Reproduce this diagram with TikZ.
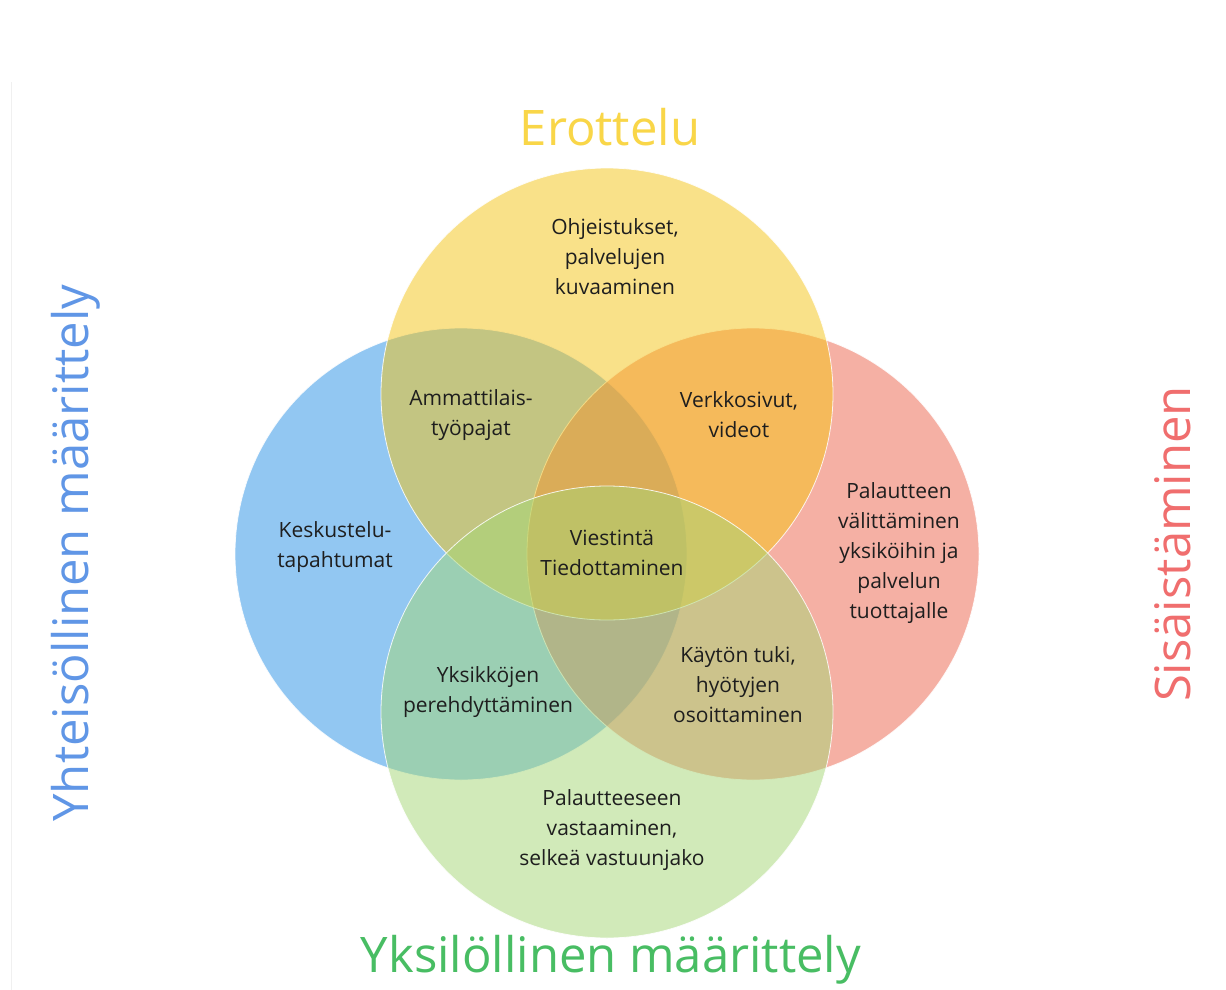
\documentclass[tikz,border=0pt]{standalone}
\usepackage{fontspec}
\setmainfont{Open Sans}
\definecolor{cblue}{RGB}{39,145,231}
\definecolor{cred}{RGB}{237,99,75}
\definecolor{cyellow}{RGB}{245,196,20}
\definecolor{cgreen}{RGB}{165,215,117}
\definecolor{tyellow}{RGB}{249,214,72}
\definecolor{tgreen}{RGB}{72,189,99}
\definecolor{tblue}{RGB}{96,150,230}
\definecolor{tred}{RGB}{240,110,110}
\definecolor{ink}{RGB}{30,30,30}
\tikzset{
  venn/.style={circle, minimum size=452pt, inner sep=0pt, fill=#1, fill opacity=0.5, draw=white, draw opacity=0.85, line width=0.8pt},
  lbl/.style={align=center, text=ink, font=\fontsize{21}{30}\selectfont, inner sep=0pt},
  title/.style={text=#1, font=\fontsize{49}{55}\selectfont, inner sep=0pt},
}
\begin{document}
\begin{tikzpicture}[x=1pt,y=-1pt]
\useasboundingbox (0,0) rectangle (1226,990);
\fill[white] (0,0) rectangle (1226,990);
\coordinate (ltop) at (11,82);
\coordinate (lbot) at (11,990);
\draw[gray!12, line width=0.8pt] (ltop) -- (lbot);
\node[venn=cblue] (blue) at (461,554) {};
\node[venn=cred] (red) at (753,554) {};
\node[venn=cyellow] (yellow) at (607,394) {};
\node[venn=cgreen] (green) at (607,712) {};
\node[title=tyellow] (terottelu) at (610,127) {Erottelu};
\node[title=tgreen] (tyksi) at (611,960) {Yksilöllinen määrittely};
\node[title=tblue, rotate=90] (tyht) at (76,553) {Yhteisöllinen määrittely};
\node[title=tred, rotate=90] (tsis) at (1173,544) {Sisäistäminen};
\node[lbl] (ohj) at (615,257) {Ohjeistukset,\\palvelujen\\kuvaaminen};
\node[lbl] (amm) at (471,415) {Ammattilais-\\työpajat};
\node[lbl] (verk) at (739,415) {Verkkosivut,\\videot};
\node[lbl] (kesk) at (335,547) {Keskustelu-\\tapahtumat};
\node[lbl] (vies) at (612,553) {Viestintä\\Tiedottaminen};
\node[lbl] (pal) at (899,553) {Palautteen\\välittäminen\\yksiköihin ja\\palvelun\\tuottajalle};
\node[lbl] (yks) at (488,692) {Yksikköjen\\perehdyttäminen};
\node[lbl] (kay) at (738,685) {Käytön tuki,\\hyötyjen\\osoittaminen};
\node[lbl] (vast) at (612,830) {Palautteeseen\\vastaaminen,\\selkeä vastuunjako};
\end{tikzpicture}
\end{document}
